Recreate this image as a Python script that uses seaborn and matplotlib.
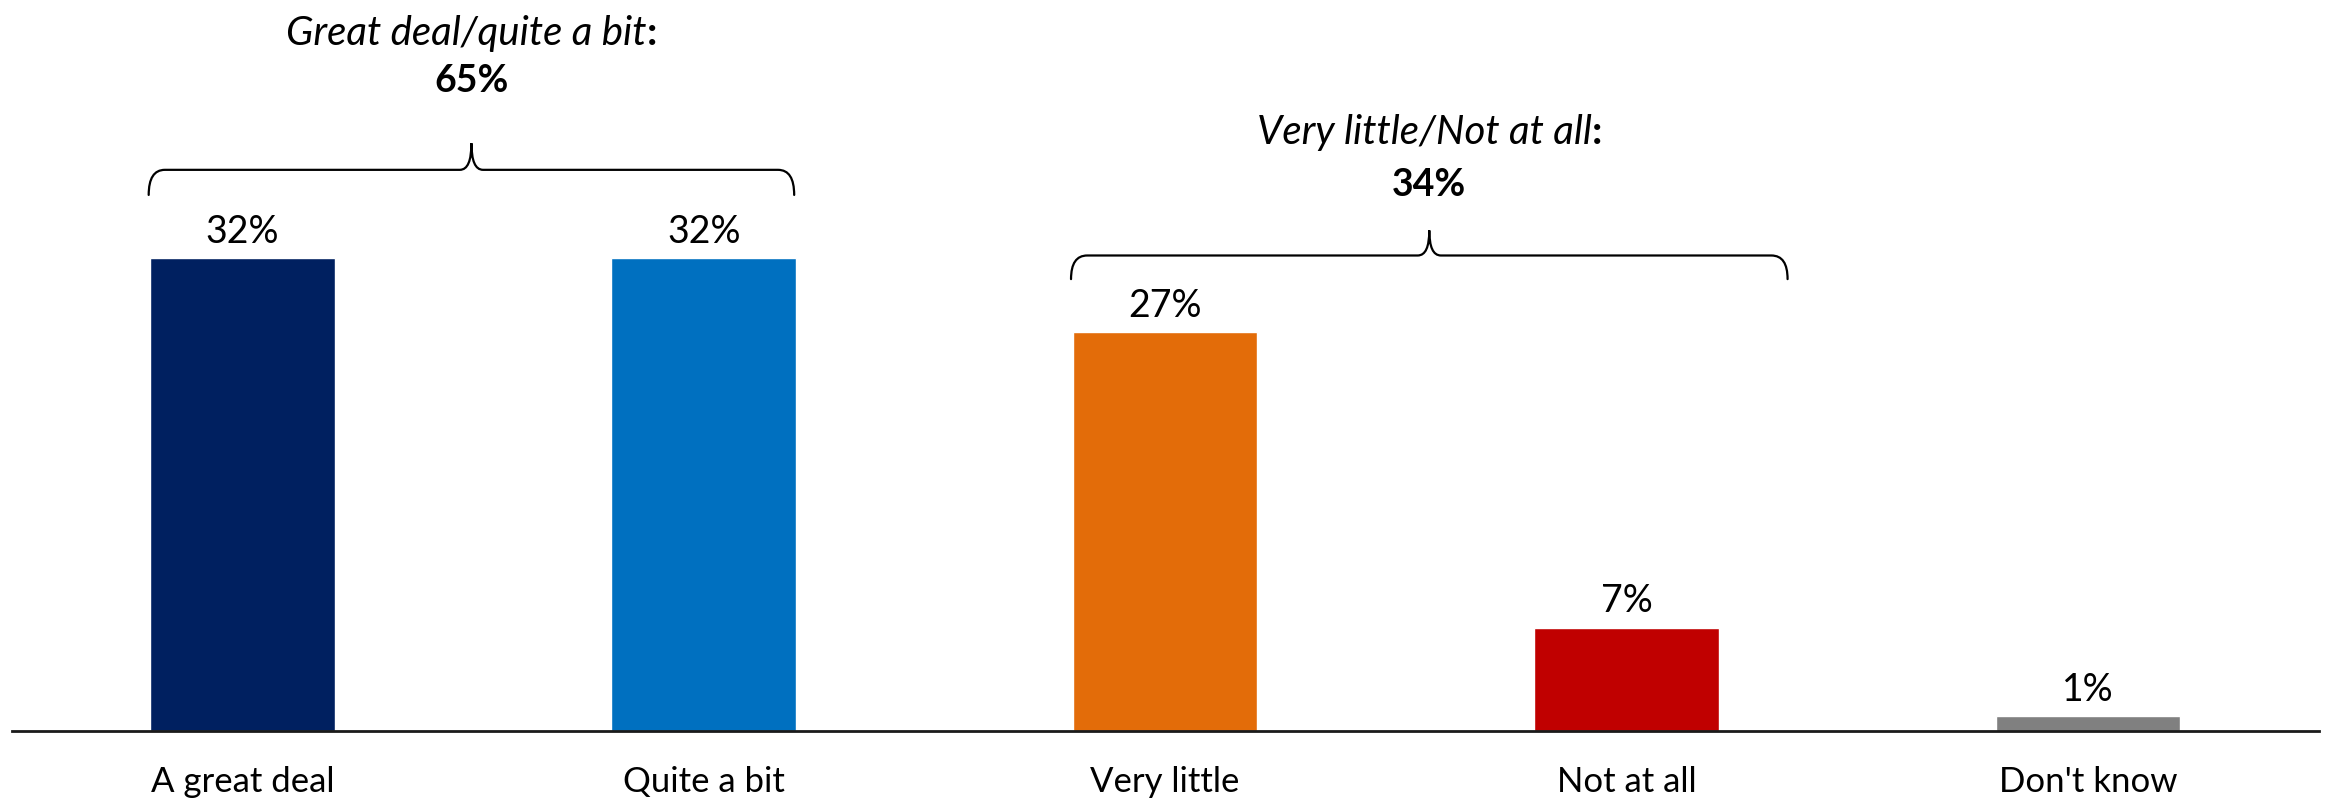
import matplotlib
matplotlib.use("Agg")
import matplotlib.pyplot as plt
from matplotlib.path import Path
from matplotlib.patches import PathPatch
from matplotlib.transforms import ScaledTranslation
import seaborn as sns
import pandas as pd

categories = ["A great deal", "Quite a bit", "Very little", "Not at all", "Don't know"]
values = [32, 32, 27, 7, 1]
colors = ["#002060", "#0070C0", "#E36C09", "#C00000", "#808080"]
groups = [
    {"label": "Great deal/quite a bit", "total": "65%", "span": (0, 1)},
    {"label": "Very little/Not at all", "total": "34%", "span": (2, 3)},
]

sns.set_theme(style="white")
plt.rcParams["font.family"] = ["Lato", "DejaVu Sans"]

CAT_FS = 25
VAL_FS = 27
HEAD_FS = 29
df = pd.DataFrame({"category": categories, "value": values})

fig = plt.figure(figsize=(23.31, 8.02), dpi=100)
ax = fig.add_axes([0.005, 0.0885, 0.9897, 0.9115])

sns.barplot(data=df, x="category", y="value", hue="category",
            palette=colors, width=0.4, legend=False, ax=ax, saturation=1)

ax.set_xlim(-0.5, 4.5)
ax.set_ylim(0, 49.5)
ax.set_xlabel("")
ax.set_ylabel("")
ax.set_yticks([])
for s in ["top", "right", "left"]:
    ax.spines[s].set_visible(False)
ax.spines["bottom"].set_color("#1a1a1a")
ax.spines["bottom"].set_linewidth(2)
ax.tick_params(axis="x", length=0, pad=25, labelsize=CAT_FS, colors="black")

# value labels above each bar
for i, v in enumerate(values):
    ax.annotate(f"{v}%", (i, v), xytext=(0, 11), textcoords="offset points",
                ha="center", va="baseline", fontsize=VAL_FS, color="black")


def brace(ax, x0, x1, yb, yh, yp, rx=0.035, mx=0.025):
    xm = (x0 + x1) / 2
    verts = [
        (x0, yb), (x0, yh), (x0 + rx, yh),
        (xm - mx, yh),
        (xm, yh), (xm, yp),
        (xm, yh), (xm + mx, yh),
        (x1 - rx, yh),
        (x1, yh), (x1, yb),
    ]
    codes = [Path.MOVETO, Path.CURVE3, Path.CURVE3,
             Path.LINETO,
             Path.CURVE3, Path.CURVE3,
             Path.CURVE3, Path.CURVE3,
             Path.LINETO,
             Path.CURVE3, Path.CURVE3]
    ax.add_patch(PathPatch(Path(verts, codes), fill=False, lw=1.6,
                           edgecolor="black", capstyle="round"))
    return xm


def heading(ax, x, y, label):
    """Italic label followed by an upright bold colon, centred as one line."""
    renderer = fig.canvas.get_renderer()
    t1 = ax.text(x, y, label, ha="left", va="center", fontsize=HEAD_FS,
                 style="italic", color="black")
    t2 = ax.text(x, y, ":", ha="left", va="center", fontsize=HEAD_FS,
                 weight="bold", color="black")
    w1 = t1.get_window_extent(renderer).width
    w2 = t2.get_window_extent(renderer).width
    total = w1 + w2
    t1.set_transform(ax.transData + ScaledTranslation(-total / 2 / fig.dpi, 0,
                                                      fig.dpi_scale_trans))
    t2.set_transform(ax.transData + ScaledTranslation((w1 - total / 2) / fig.dpi, 0,
                                                      fig.dpi_scale_trans))


layout = [
    # (left, right, bracket end y, bracket line y, peak y, label y, total y)
    (-0.203, 1.196, 36.3, 38.0, 39.8, 47.2, 44.0),
    (1.796, 3.349, 30.6, 32.2, 33.9, 40.5, 37.0),
]
for g, (x0, x1, yb, yh, yp, ly, ty) in zip(groups, layout):
    xm = brace(ax, x0, x1, yb, yh, yp)
    heading(ax, xm, ly, g["label"])
    ax.text(xm, ty, g["total"], ha="center", va="center", fontsize=VAL_FS,
            weight="bold", color="black")

fig.savefig("out.png", dpi=100)
